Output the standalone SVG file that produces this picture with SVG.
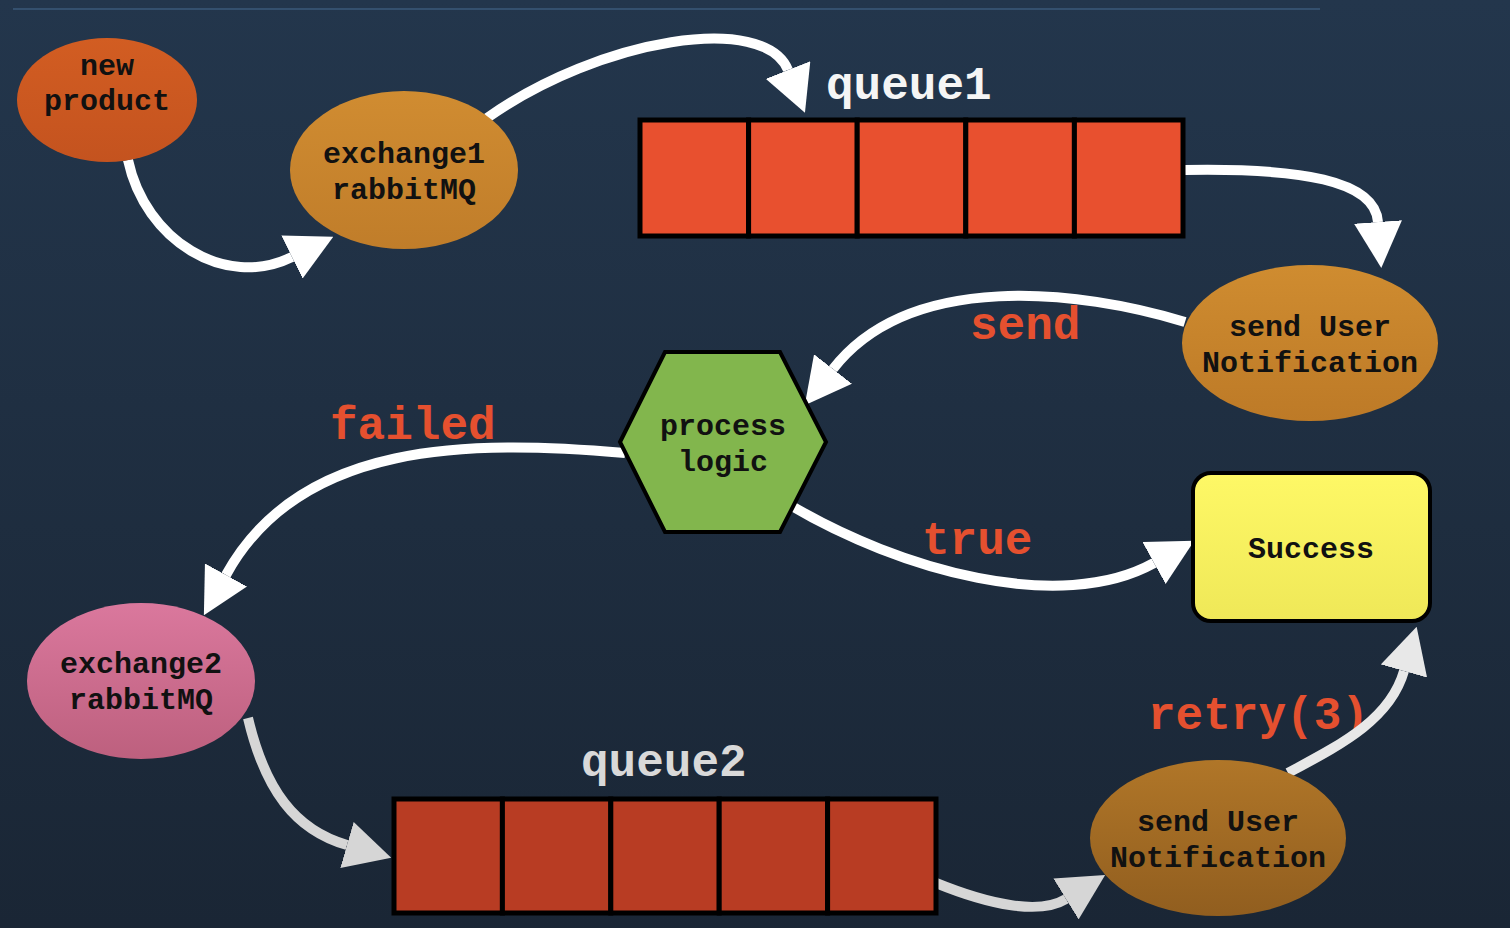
<svg xmlns="http://www.w3.org/2000/svg" width="1510" height="928" viewBox="0 0 1510 928">
<defs>
<linearGradient id="bg" x1="0" y1="0" x2="0" y2="1"><stop offset="0" stop-color="#23364c"/><stop offset="1" stop-color="#1a2635"/></linearGradient>
<linearGradient id="gNew" x1="0" y1="0" x2="0" y2="1"><stop offset="0" stop-color="#d25d22"/><stop offset="1" stop-color="#c4531f"/></linearGradient>
<linearGradient id="gEx1" x1="0" y1="0" x2="0" y2="1"><stop offset="0" stop-color="#d08c31"/><stop offset="1" stop-color="#c07d2a"/></linearGradient>
<linearGradient id="gSun1" x1="0" y1="0" x2="0" y2="1"><stop offset="0" stop-color="#cf8c30"/><stop offset="1" stop-color="#bd7a27"/></linearGradient>
<linearGradient id="gSun2" x1="0" y1="0" x2="0" y2="1"><stop offset="0" stop-color="#b07628"/><stop offset="1" stop-color="#915e1f"/></linearGradient>
<linearGradient id="gEx2" x1="0" y1="0" x2="0" y2="1"><stop offset="0" stop-color="#da789d"/><stop offset="1" stop-color="#bd607e"/></linearGradient>
<linearGradient id="gSuc" x1="0" y1="0" x2="0" y2="1"><stop offset="0" stop-color="#fef866"/><stop offset="1" stop-color="#efe858"/></linearGradient>
<marker id="ahW" viewBox="0 0 46 48" refX="0" refY="24" markerWidth="46" markerHeight="48" markerUnits="userSpaceOnUse" orient="auto"><path d="M0,0 L46,24 L0,48 Z" fill="#ffffff"/></marker>
<marker id="ahG" viewBox="0 0 46 48" refX="0" refY="24" markerWidth="46" markerHeight="48" markerUnits="userSpaceOnUse" orient="auto"><path d="M0,0 L46,24 L0,48 Z" fill="#d6d6d6"/></marker>
<marker id="ahL" viewBox="0 0 46 48" refX="0" refY="24" markerWidth="46" markerHeight="48" markerUnits="userSpaceOnUse" orient="auto"><path d="M0,0 L46,24 L0,48 Z" fill="#e8e8e8"/></marker>
</defs>
<style>
.lbl{font-family:"Liberation Mono","Courier New",monospace;font-weight:bold;font-size:30px;fill:#111;text-anchor:middle}
.big{font-family:"Liberation Mono","Courier New",monospace;font-weight:bold;font-size:46px}
.red{fill:#e5502f}
.conn{fill:none;stroke-width:10;stroke-linecap:butt}
.w{stroke:#ffffff;marker-end:url(#ahW)}
.g{stroke:#d6d6d6;marker-end:url(#ahG)}
.l{stroke:#e8e8e8;marker-end:url(#ahL)}
.cell{stroke:#000;stroke-width:5}
</style>
<rect x="0" y="0" width="1510" height="928" fill="url(#bg)"/>
<line x1="13" y1="9" x2="1320" y2="9" stroke="#34506e" stroke-width="2"/>

<g id="edge-labels">
<text class="big red" x="970" y="339">send</text>
<text class="big red" x="330" y="439">failed</text>
<text class="big red" x="922" y="554">true</text>
<text class="big red" x="1148" y="729">retry(3)</text>
</g>

<g id="connectors">
<path class="conn w" d="M128,160 C145,240 225,290 292,257"/>
<path class="conn w" d="M487,118 C600,38 765,12 788,70"/>
<path class="conn w" d="M1185,170 C1300,168 1375,180 1378,222"/>
<path class="conn w" d="M1185,322 C1080,290 910,270 833,369"/>
<path class="conn w" d="M625,453 C470,440 300,440 226,575"/>
<path class="conn w" d="M790,505 C900,570 1060,615 1154,563"/>
<path class="conn g" d="M248,718 C265,790 295,830 347,845"/>
<path class="conn g" d="M936,883 C990,905 1040,915 1066,899"/>
<path class="conn l" d="M1288,773 C1340,745 1390,720 1404,671"/>
</g>

<g id="new-product">
<ellipse cx="107" cy="100" rx="90" ry="62" fill="url(#gNew)"/>
<text class="lbl" x="107" y="75">new</text>
<text class="lbl" x="107" y="110">product</text>
</g>

<g id="exchange1">
<ellipse cx="404" cy="170" rx="114" ry="79" fill="url(#gEx1)"/>
<text class="lbl" x="404" y="163">exchange1</text>
<text class="lbl" x="404" y="199">rabbitMQ</text>
</g>

<g id="queue1">
<rect class="cell" x="640" y="120" width="108.6" height="116" fill="#e8502f"/>
<rect class="cell" x="748.6" y="120" width="108.6" height="116" fill="#e8502f"/>
<rect class="cell" x="857.2" y="120" width="108.6" height="116" fill="#e8502f"/>
<rect class="cell" x="965.8" y="120" width="108.6" height="116" fill="#e8502f"/>
<rect class="cell" x="1074.4" y="120" width="108.6" height="116" fill="#e8502f"/>
<text class="big" x="826" y="99" fill="#f5f5f5">queue1</text>
</g>

<g id="send-user-notification-1">
<ellipse cx="1310" cy="343" rx="128" ry="78" fill="url(#gSun1)"/>
<text class="lbl" x="1310" y="336">send User</text>
<text class="lbl" x="1310" y="372">Notification</text>
</g>

<g id="process-logic">
<polygon points="620,442 665,352 780,352 826,442 780,532 665,532" fill="#82b64d" stroke="#000" stroke-width="4"/>
<text class="lbl" x="723" y="435">process</text>
<text class="lbl" x="723" y="471">logic</text>
</g>

<g id="success">
<rect x="1193" y="473" width="237" height="148" rx="18" fill="url(#gSuc)" stroke="#000" stroke-width="4"/>
<text class="lbl" x="1311" y="558">Success</text>
</g>

<g id="exchange2">
<ellipse cx="141" cy="681" rx="114" ry="78" fill="url(#gEx2)"/>
<text class="lbl" x="141" y="673">exchange2</text>
<text class="lbl" x="141" y="709">rabbitMQ</text>
</g>

<g id="queue2">
<rect class="cell" x="394" y="799" width="108.4" height="114" fill="#b83c23"/>
<rect class="cell" x="502.4" y="799" width="108.4" height="114" fill="#b83c23"/>
<rect class="cell" x="610.8" y="799" width="108.4" height="114" fill="#b83c23"/>
<rect class="cell" x="719.2" y="799" width="108.4" height="114" fill="#b83c23"/>
<rect class="cell" x="827.6" y="799" width="108.4" height="114" fill="#b83c23"/>
<text class="big" x="581" y="776" fill="#d9d9d9">queue2</text>
</g>

<g id="send-user-notification-2">
<ellipse cx="1218" cy="838" rx="128" ry="78" fill="url(#gSun2)"/>
<text class="lbl" x="1218" y="831">send User</text>
<text class="lbl" x="1218" y="867">Notification</text>
</g>
</svg>
